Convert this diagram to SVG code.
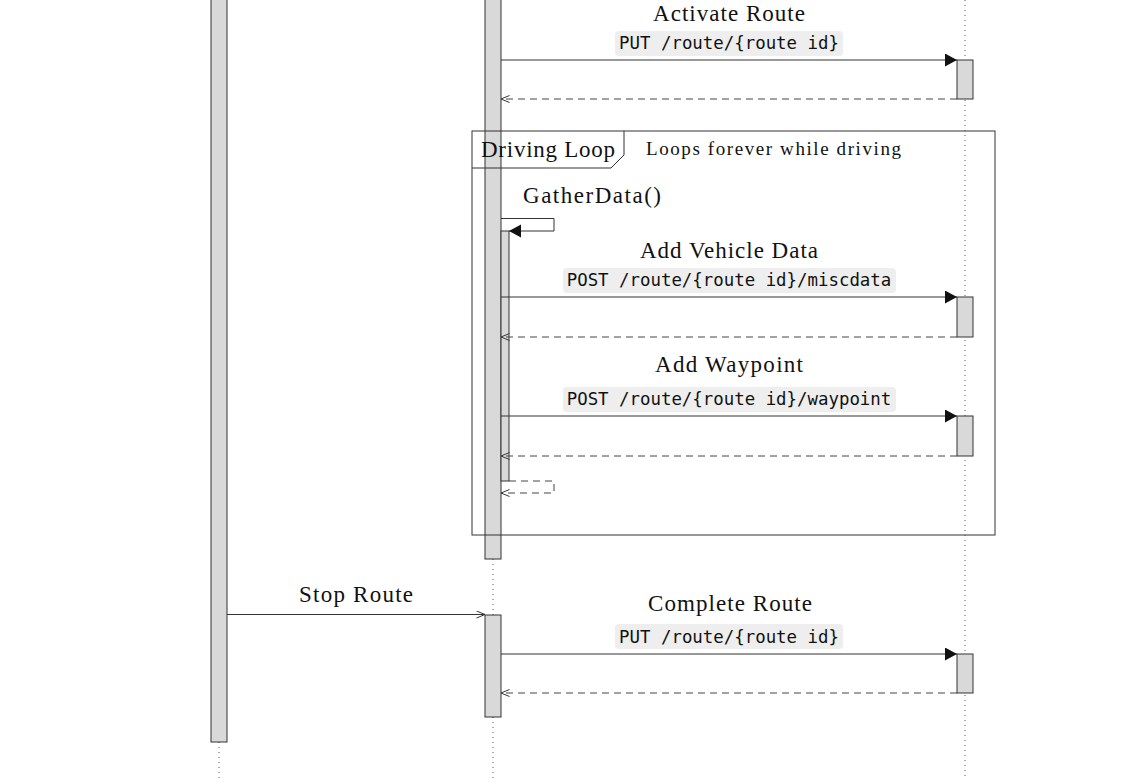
<svg xmlns="http://www.w3.org/2000/svg" width="1131" height="780" viewBox="0 0 1131 780">
  <style>
    .life { stroke: #555; stroke-width: 1; stroke-dasharray: 1 4; fill: none; }
    .act { fill: #d9d9d9; stroke: #333; stroke-width: 1; }
    .msg { stroke: #333; stroke-width: 1; fill: none; }
    .ret { stroke: #444; stroke-width: 1; fill: none; stroke-dasharray: 7 5; }
    .frame { stroke: #333; stroke-width: 1; fill: none; }
    .lbl { font-family: "Liberation Serif", "Times New Roman", serif; font-size: 23px; fill: #111; }
    .cond { font-family: "Liberation Serif", "Times New Roman", serif; font-size: 19px; fill: #111; }
    .code { font-family: "DejaVu Sans Mono", "Liberation Mono", monospace; font-size: 17.4px; fill: #111; }
    .codebg { fill: #eeeeee; stroke: none; }
  </style>
  <defs>
    <marker id="filled" markerUnits="userSpaceOnUse" markerWidth="13" markerHeight="14" refX="12" refY="6.5" orient="auto">
      <path d="M0,0 L12,6.5 L0,13 z" fill="#111"/>
    </marker>
    <marker id="open" markerUnits="userSpaceOnUse" markerWidth="10" markerHeight="10" refX="9" refY="4" orient="auto">
      <path d="M0.5,0.5 L9,4 L0.5,7.5" fill="none" stroke="#333" stroke-width="1"/>
    </marker>
  </defs>
  <rect x="0" y="0" width="1131" height="780" fill="#ffffff"/>

  <g id="participant-client">
    <line class="life" x1="219" y1="742" x2="219" y2="780"/>
    <rect class="act" x="211" y="-2" width="16" height="744"/>
  </g>

  <g id="participant-app">
    <line class="life" x1="493" y1="559" x2="493" y2="615"/>
    <line class="life" x1="493" y1="717" x2="493" y2="780"/>
    <rect class="act" x="485" y="-2" width="16" height="561"/>
    <rect class="act" x="501" y="231" width="8" height="250"/>
    <rect class="act" x="485" y="615" width="16" height="102"/>
  </g>

  <g id="participant-server">
    <line class="life" x1="965" y1="0" x2="965" y2="780"/>
    <rect class="act" x="957" y="60" width="16" height="39"/>
    <rect class="act" x="957" y="297" width="16" height="40"/>
    <rect class="act" x="957" y="416" width="16" height="40"/>
    <rect class="act" x="957" y="654" width="16" height="39"/>
  </g>

  <g id="frame-driving-loop">
    <rect class="frame" x="472" y="131" width="523" height="404"/>
    <path class="frame" d="M472,168 L611,168 L624,155 L624,131"/>
    <text class="lbl" x="481" y="157" textLength="134">Driving Loop</text>
    <text class="cond" x="646" y="155" textLength="255">Loops forever while driving</text>
  </g>

  <g id="connectors">
    <!-- Activate Route -->
    <text class="lbl" x="729" y="21" text-anchor="middle" textLength="152">Activate Route</text>
    <rect class="codebg" x="615" y="31" width="228" height="25" rx="4"/>
    <text class="code" x="729" y="48.5" text-anchor="middle">PUT /route/{route id}</text>
    <line class="msg" x1="501" y1="60" x2="957" y2="60" marker-end="url(#filled)"/>
    <line class="ret" x1="957" y1="99" x2="501" y2="99" marker-end="url(#open)"/>

    <!-- GatherData self call -->
    <text class="lbl" x="523" y="203" textLength="138">GatherData()</text>
    <polyline class="msg" points="501,218.5 554,218.5 554,231 509,231" marker-end="url(#filled)"/>

    <!-- Add Vehicle Data -->
    <text class="lbl" x="729" y="258" text-anchor="middle" textLength="178">Add Vehicle Data</text>
    <rect class="codebg" x="563" y="268" width="333" height="25" rx="4"/>
    <text class="code" x="729" y="285.5" text-anchor="middle">POST /route/{route id}/miscdata</text>
    <line class="msg" x1="501" y1="297" x2="957" y2="297" marker-end="url(#filled)"/>
    <line class="ret" x1="957" y1="337" x2="501" y2="337" marker-end="url(#open)"/>

    <!-- Add Waypoint -->
    <text class="lbl" x="729" y="372" text-anchor="middle" textLength="148">Add Waypoint</text>
    <rect class="codebg" x="563" y="387" width="333" height="25" rx="4"/>
    <text class="code" x="729" y="404.5" text-anchor="middle">POST /route/{route id}/waypoint</text>
    <line class="msg" x1="501" y1="416" x2="957" y2="416" marker-end="url(#filled)"/>
    <line class="ret" x1="957" y1="456" x2="501" y2="456" marker-end="url(#open)"/>

    <!-- GatherData return -->
    <polyline class="ret" points="509,481 554,481 554,493 501,493" marker-end="url(#open)"/>

    <!-- Stop Route -->
    <text class="lbl" x="356" y="602" text-anchor="middle" textLength="114">Stop Route</text>
    <line class="msg" x1="227" y1="614.5" x2="485" y2="614.5" marker-end="url(#open)"/>

    <!-- Complete Route -->
    <text class="lbl" x="730" y="611" text-anchor="middle" textLength="164">Complete Route</text>
    <rect class="codebg" x="615" y="624" width="228" height="25" rx="4"/>
    <text class="code" x="729" y="642.5" text-anchor="middle">PUT /route/{route id}</text>
    <line class="msg" x1="501" y1="654" x2="957" y2="654" marker-end="url(#filled)"/>
    <line class="ret" x1="957" y1="693" x2="501" y2="693" marker-end="url(#open)"/>
  </g>
</svg>
